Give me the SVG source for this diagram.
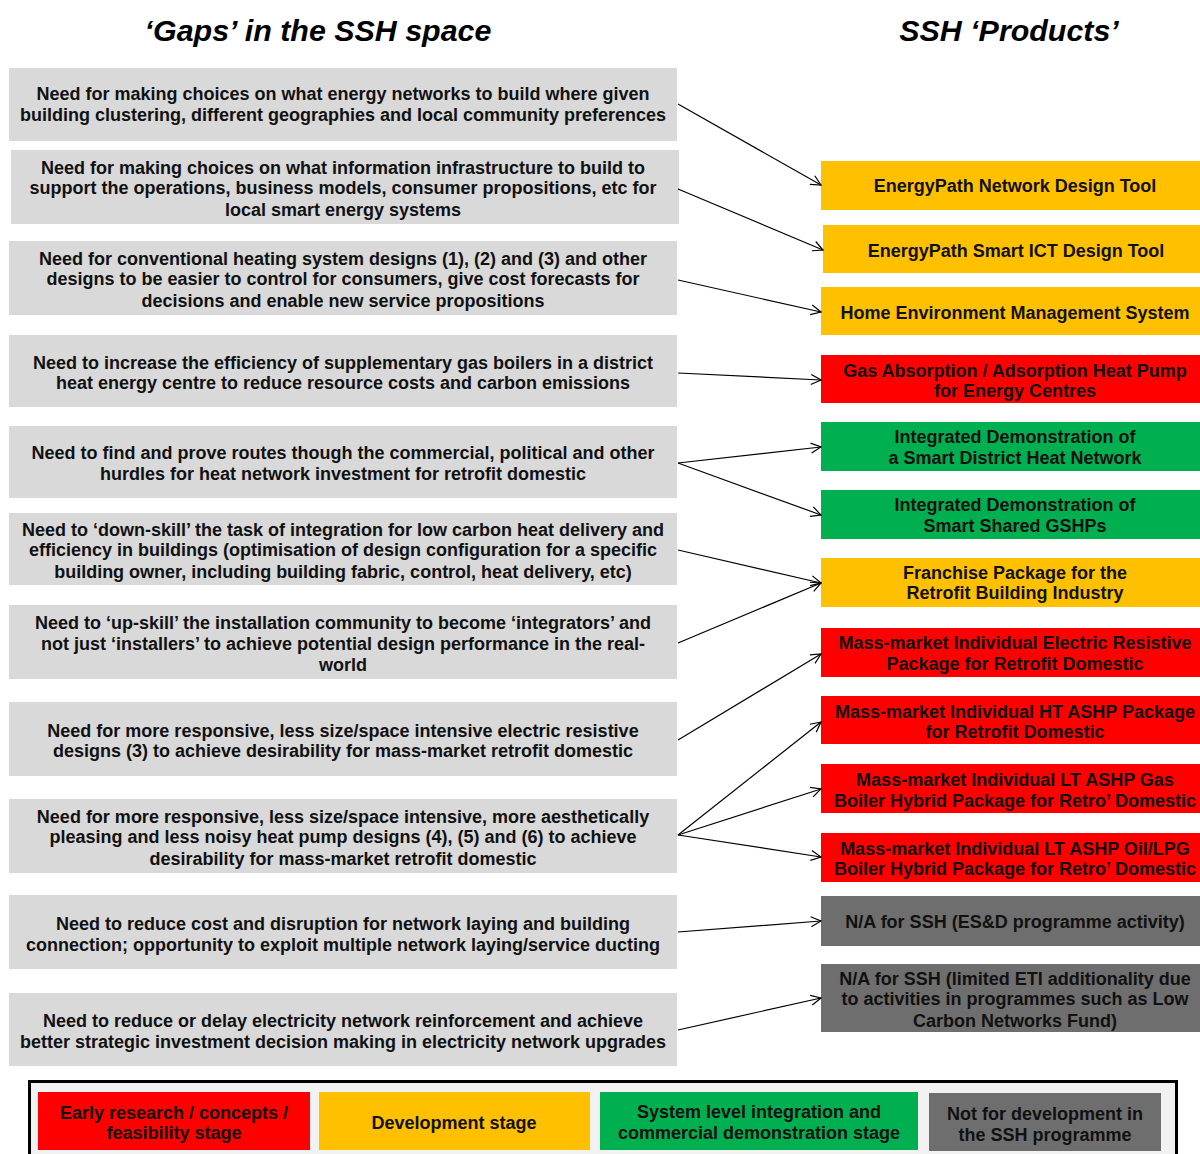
<svg xmlns="http://www.w3.org/2000/svg" width="1200" height="1154" viewBox="0 0 1200 1154">
<defs>
<style>
.hd{font-family:"Liberation Sans",Arial,sans-serif;font-weight:bold;font-style:italic;font-size:30.4px;fill:#000;text-anchor:middle}
.t{font-family:"Liberation Sans",Arial,sans-serif;font-weight:bold;font-size:18px;fill:#111;text-anchor:middle}
.lt{font-family:"Liberation Sans",Arial,sans-serif;font-weight:bold;font-size:18px;fill:#111;text-anchor:middle}
.gap{fill:#D9D9D9}
.red{fill:#FF0000}
.yel{fill:#FFC000}
.grn{fill:#00B050}
.gry{fill:#6E6E6E}
.c{stroke:#000;stroke-width:1.2;fill:none;marker-end:url(#a)}
</style>
<marker id="a" viewBox="0 0 12 12" refX="11" refY="6" markerWidth="12" markerHeight="12" markerUnits="userSpaceOnUse" orient="auto">
<path d="M1,1 L11,6 L1,11" fill="none" stroke="#000" stroke-width="1.2"/>
</marker>
</defs>
<rect width="1200" height="1154" fill="#fff"/>
<text class="hd" x="318" y="41">‘Gaps’ in the SSH space</text>
<text class="hd" x="1009" y="41">SSH ‘Products’</text>

<g id="gap1"><rect class="gap" x="9" y="68" width="668" height="73"/>
<text class="t" x="343" y="100">Need for making choices on what energy networks to build where given</text>
<text class="t" x="343" y="121">building clustering, different geographies and local community preferences</text></g>
<g id="gap2"><rect class="gap" x="11" y="150" width="668" height="74"/>
<text class="t" x="343" y="174">Need for making choices on what information infrastructure to build to</text>
<text class="t" x="343" y="194">support the operations, business models, consumer propositions, etc for</text>
<text class="t" x="343" y="216">local smart energy systems</text></g>
<g id="gap3"><rect class="gap" x="9" y="241" width="668" height="74"/>
<text class="t" x="343" y="265">Need for conventional heating system designs (1), (2) and (3) and other</text>
<text class="t" x="343" y="285">designs to be easier to control for consumers, give cost forecasts for</text>
<text class="t" x="343" y="307">decisions and enable new service propositions</text></g>
<g id="gap4"><rect class="gap" x="9" y="335" width="668" height="72"/>
<text class="t" x="343" y="369">Need to increase the efficiency of supplementary gas boilers in a district</text>
<text class="t" x="343" y="389">heat energy centre to reduce resource costs and carbon emissions</text></g>
<g id="gap5"><rect class="gap" x="9" y="426" width="668" height="72"/>
<text class="t" x="343" y="459">Need to find and prove routes though the commercial, political and other</text>
<text class="t" x="343" y="480">hurdles for heat network investment for retrofit domestic</text></g>
<g id="gap6"><rect class="gap" x="9" y="513" width="668" height="72"/>
<text class="t" x="343" y="536">Need to ‘down-skill’ the task of integration for low carbon heat delivery and</text>
<text class="t" x="343" y="556">efficiency in buildings (optimisation of design configuration for a specific</text>
<text class="t" x="343" y="578">building owner, including building fabric, control, heat delivery, etc)</text></g>
<g id="gap7"><rect class="gap" x="9" y="605" width="668" height="74"/>
<text class="t" x="343" y="629">Need to ‘up-skill’ the installation community to become ‘integrators’ and</text>
<text class="t" x="343" y="650">not just ‘installers’ to achieve potential design performance in the real-</text>
<text class="t" x="343" y="671">world</text></g>
<g id="gap8"><rect class="gap" x="9" y="702" width="668" height="74"/>
<text class="t" x="343" y="737">Need for more responsive, less size/space intensive electric resistive</text>
<text class="t" x="343" y="757">designs (3) to achieve desirability for mass-market retrofit domestic</text></g>
<g id="gap9"><rect class="gap" x="9" y="799" width="668" height="74"/>
<text class="t" x="343" y="823">Need for more responsive, less size/space intensive, more aesthetically</text>
<text class="t" x="343" y="843">pleasing and less noisy heat pump designs (4), (5) and (6) to achieve</text>
<text class="t" x="343" y="865">desirability for mass-market retrofit domestic</text></g>
<g id="gap10"><rect class="gap" x="9" y="895" width="668" height="74"/>
<text class="t" x="343" y="930">Need to reduce cost and disruption for network laying and building</text>
<text class="t" x="343" y="951">connection; opportunity to exploit multiple network laying/service ducting</text></g>
<g id="gap11"><rect class="gap" x="9" y="993" width="668" height="73"/>
<text class="t" x="343" y="1027">Need to reduce or delay electricity network reinforcement and achieve</text>
<text class="t" x="343" y="1048">better strategic investment decision making in electricity network upgrades</text></g>

<g id="p1"><rect class="yel" x="821" y="161" width="379" height="49"/>
<text class="t" x="1015" y="192">EnergyPath Network Design Tool</text></g>
<g id="p2"><rect class="yel" x="823" y="225" width="377" height="48"/>
<text class="t" x="1016" y="257">EnergyPath Smart ICT Design Tool</text></g>
<g id="p3"><rect class="yel" x="821" y="287" width="379" height="48"/>
<text class="t" x="1015" y="319">Home Environment Management System</text></g>
<g id="p4"><rect class="red" x="821" y="355" width="379" height="48"/>
<text class="t" x="1015" y="377">Gas Absorption / Adsorption Heat Pump</text>
<text class="t" x="1015" y="397">for Energy Centres</text></g>
<g id="p5"><rect class="grn" x="821" y="422" width="379" height="49"/>
<text class="t" x="1015" y="443">Integrated Demonstration of</text>
<text class="t" x="1015" y="464">a Smart District Heat Network</text></g>
<g id="p6"><rect class="grn" x="821" y="490" width="379" height="49"/>
<text class="t" x="1015" y="511">Integrated Demonstration of</text>
<text class="t" x="1015" y="532">Smart Shared GSHPs</text></g>
<g id="p7"><rect class="yel" x="821" y="558" width="379" height="49"/>
<text class="t" x="1015" y="579">Franchise Package for the</text>
<text class="t" x="1015" y="599">Retrofit Building Industry</text></g>
<g id="p8"><rect class="red" x="821" y="628" width="379" height="49"/>
<text class="t" x="1015" y="649">Mass-market Individual Electric Resistive</text>
<text class="t" x="1015" y="670">Package for Retrofit Domestic</text></g>
<g id="p9"><rect class="red" x="821" y="696" width="379" height="48"/>
<text class="t" x="1015" y="718">Mass-market Individual HT ASHP Package</text>
<text class="t" x="1015" y="738">for Retrofit Domestic</text></g>
<g id="p10"><rect class="red" x="821" y="764" width="379" height="49"/>
<text class="t" x="1015" y="786">Mass-market Individual LT ASHP Gas</text>
<text class="t" x="1015" y="807">Boiler Hybrid Package for Retro’ Domestic</text></g>
<g id="p11"><rect class="red" x="821" y="833" width="379" height="49"/>
<text class="t" x="1015" y="855">Mass-market Individual LT ASHP Oil/LPG</text>
<text class="t" x="1015" y="875">Boiler Hybrid Package for Retro’ Domestic</text></g>
<g id="p12"><rect class="gry" x="821" y="896" width="379" height="50"/>
<text class="t" x="1015" y="928">N/A for SSH (ES&amp;D programme activity)</text></g>
<g id="p13"><rect class="gry" x="821" y="964" width="379" height="68"/>
<text class="t" x="1015" y="985">N/A for SSH (limited ETI additionality due</text>
<text class="t" x="1015" y="1005">to activities in programmes such as Low</text>
<text class="t" x="1015" y="1027">Carbon Networks Fund)</text></g>

<g id="connectors">
<line class="c" x1="678" y1="104" x2="821" y2="185"/>
<line class="c" x1="678" y1="189" x2="823" y2="250"/>
<line class="c" x1="678" y1="280" x2="821" y2="312"/>
<line class="c" x1="678" y1="373" x2="821" y2="380"/>
<line class="c" x1="678" y1="463" x2="821" y2="447"/>
<line class="c" x1="678" y1="463" x2="821" y2="515"/>
<line class="c" x1="678" y1="550" x2="821" y2="583"/>
<line class="c" x1="678" y1="643" x2="821" y2="583"/>
<line class="c" x1="678" y1="740" x2="821" y2="654"/>
<line class="c" x1="678" y1="835" x2="821" y2="722"/>
<line class="c" x1="678" y1="835" x2="821" y2="789"/>
<line class="c" x1="678" y1="835" x2="821" y2="857"/>
<line class="c" x1="678" y1="932" x2="821" y2="921"/>
<line class="c" x1="678" y1="1030" x2="821" y2="998"/>
</g>

<g id="legend">
<rect x="29.5" y="1081.5" width="1147" height="80" fill="#F2F2F2" stroke="#000" stroke-width="3"/>
<rect class="red" x="38" y="1092" width="272" height="58"/>
<text class="lt" x="174" y="1119">Early research / concepts /</text>
<text class="lt" x="174" y="1139">feasibility stage</text>
<rect class="yel" x="319" y="1092" width="271" height="58"/>
<text class="lt" x="454" y="1129">Development stage</text>
<rect class="grn" x="600" y="1092" width="318" height="58"/>
<text class="lt" x="759" y="1118">System level integration and</text>
<text class="lt" x="759" y="1139">commercial demonstration stage</text>
<rect class="gry" x="929" y="1093" width="232" height="58"/>
<text class="lt" x="1045" y="1120">Not for development in</text>
<text class="lt" x="1045" y="1141">the SSH programme</text>
</g>
</svg>
